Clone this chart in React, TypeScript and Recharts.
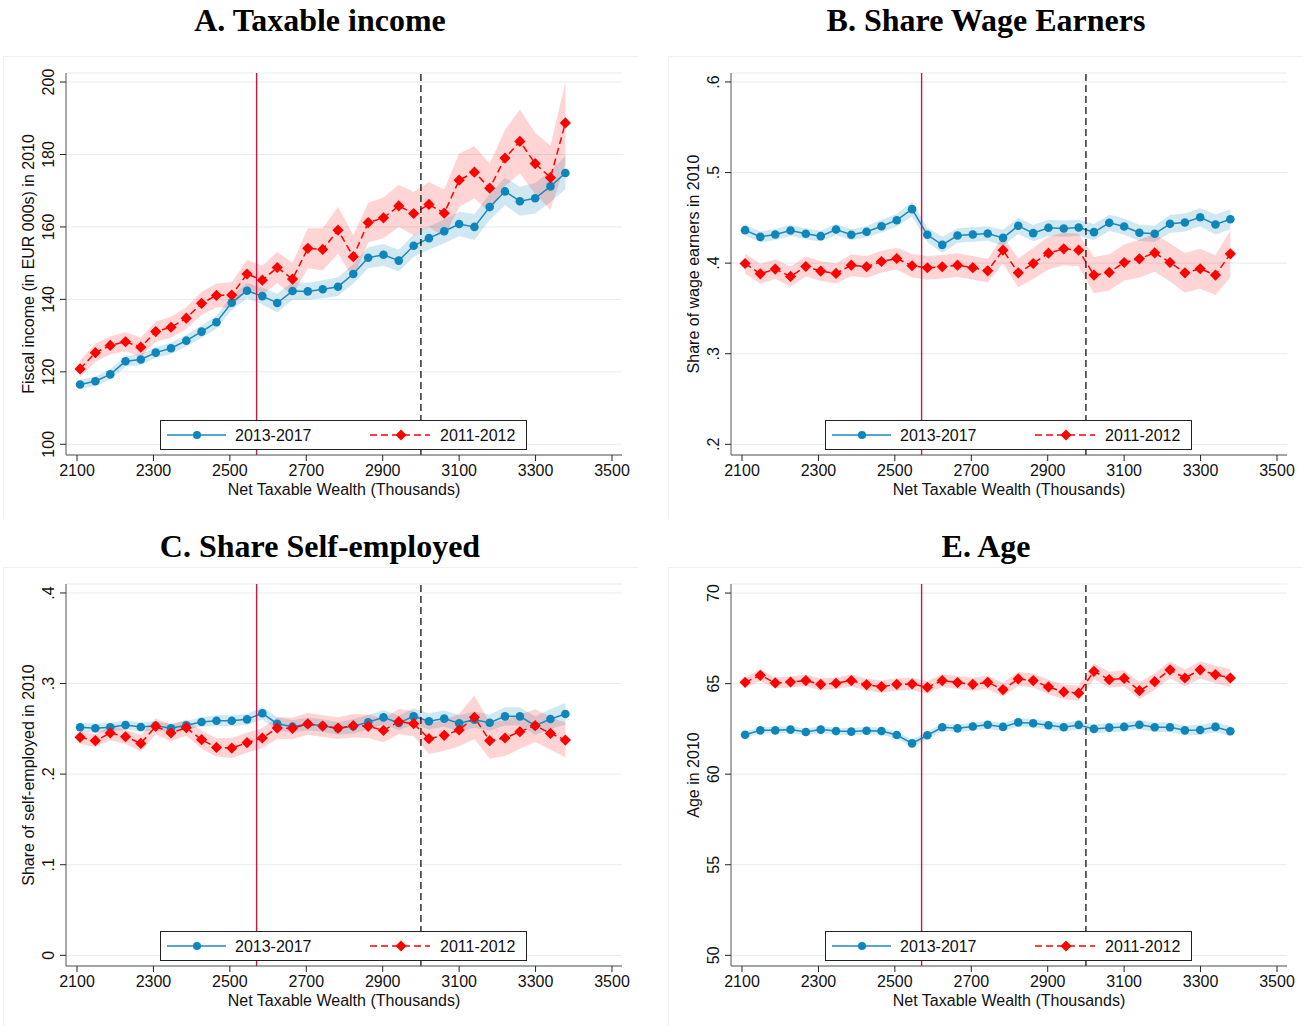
import React from 'react';
import {
  ComposedChart,
  Area,
  Line,
  XAxis,
  YAxis,
  CartesianGrid,
  ReferenceLine,
  Label,
} from 'recharts';

// bin midpoints of net taxable wealth (thousands)
const wealth = [
  2108, 2148, 2187, 2227, 2267, 2306, 2346, 2386, 2426, 2465, 2505, 2545, 2585, 2624, 2664, 2704, 2743,
  2783, 2823, 2862, 2902, 2942, 2981, 3021, 3061, 3100, 3140, 3180, 3220, 3259, 3299, 3339, 3378,
];
const xTicks = [2100, 2300, 2500, 2700, 2900, 3100, 3300, 3500];

// A. taxable income
const incomeLate = [
  116.5, 117.4, 119.3, 122.9, 123.4, 125.3, 126.5, 128.6, 131.1, 133.7, 139.1, 142.4, 140.9, 139.0, 142.3, 142.2, 142.8,
  143.5, 147.0, 151.5, 152.3, 150.7, 154.8, 156.9, 158.8, 160.8, 160.0, 165.5, 169.8, 167.1, 167.9, 171.2, 174.9,
];
const incomeLateCi = [
  1.3, 1.3, 1.4, 1.5, 1.5, 1.5, 1.6, 1.6, 1.7, 1.8, 2.0, 2.1, 2.3, 2.6, 2.4, 2.4, 2.5,
  2.6, 2.7, 2.9, 3.0, 3.0, 3.1, 3.2, 3.3, 3.4, 3.6, 3.6, 3.8, 4.0, 4.2, 4.3, 4.6,
];
const incomeEarly = [
  120.8, 125.3, 127.3, 128.3, 126.8, 131.1, 132.3, 134.8, 138.9, 141.1, 141.2, 147.0, 145.3, 148.8, 145.6, 154.1, 153.8,
  159.1, 151.8, 161.2, 162.5, 165.8, 163.7, 166.2, 163.8, 172.9, 175.1, 170.7, 179.0, 183.6, 177.5, 173.6, 188.7,
];
const incomeEarlyCi = [
  2.3, 2.5, 2.5, 2.6, 2.7, 2.8, 2.9, 3.0, 3.2, 3.3, 3.5, 3.9, 4.0, 4.3, 4.5, 5.5, 5.8,
  6.5, 6.0, 5.5, 5.6, 5.8, 6.0, 6.2, 6.5, 7.4, 7.2, 6.8, 7.8, 8.8, 8.5, 8.8, 11.3,
];

// B. share wage earners
const wageLate = [
  0.4364, 0.429, 0.4316, 0.436, 0.4324, 0.4298, 0.4371, 0.4313, 0.4346, 0.4408, 0.4474, 0.4596, 0.4313, 0.4202, 0.4305, 0.4316, 0.4327,
  0.4279, 0.4412, 0.4331, 0.439, 0.4382, 0.4393, 0.4342, 0.4445, 0.4404, 0.4335, 0.4324, 0.4434, 0.4449, 0.4507, 0.4426, 0.4485,
];
const wageLateCi = [
  0.006, 0.006, 0.006, 0.006, 0.006, 0.006, 0.006, 0.006, 0.006, 0.007, 0.007, 0.008, 0.008, 0.009, 0.008, 0.008, 0.008,
  0.009, 0.009, 0.009, 0.009, 0.009, 0.009, 0.009, 0.009, 0.009, 0.009, 0.009, 0.01, 0.01, 0.01, 0.011, 0.011,
];
const wageEarly = [
  0.3996, 0.3882, 0.3934, 0.3853, 0.3963, 0.3912, 0.3886, 0.3978, 0.396, 0.4018, 0.4051, 0.3971, 0.3949, 0.396, 0.3978, 0.395, 0.3915,
  0.4143, 0.3893, 0.3996, 0.411, 0.4158, 0.4143, 0.3868, 0.3897, 0.4007, 0.4048, 0.4114, 0.4007, 0.3893, 0.3938, 0.3868, 0.4103,
];
const wageEarlyCi = [
  0.011, 0.011, 0.011, 0.011, 0.011, 0.011, 0.011, 0.012, 0.012, 0.012, 0.012, 0.013, 0.013, 0.013, 0.013, 0.013, 0.013,
  0.015, 0.016, 0.017, 0.018, 0.018, 0.018, 0.02, 0.02, 0.02, 0.021, 0.021, 0.021, 0.022, 0.022, 0.022, 0.026,
];

// C. share self-employed
const selfLate = [
  0.2517, 0.2506, 0.2517, 0.2542, 0.252, 0.2535, 0.2506, 0.2539, 0.2576, 0.259, 0.259, 0.2605, 0.2672, 0.2557, 0.2524, 0.2554, 0.2535,
  0.2504, 0.2528, 0.2572, 0.2627, 0.2565, 0.2638, 0.2583, 0.2613, 0.2561, 0.2601, 0.2568, 0.2638, 0.2638, 0.2535, 0.2609, 0.2664,
];
const selfLateCi = [
  0.005, 0.005, 0.005, 0.005, 0.005, 0.005, 0.005, 0.005, 0.005, 0.006, 0.006, 0.006, 0.007, 0.007, 0.007, 0.007, 0.007,
  0.007, 0.008, 0.008, 0.008, 0.008, 0.009, 0.009, 0.009, 0.009, 0.009, 0.009, 0.01, 0.01, 0.01, 0.011, 0.012,
];
const selfEarly = [
  0.2406, 0.2369, 0.2454, 0.2413, 0.2339, 0.2528, 0.2454, 0.2513, 0.238, 0.2295, 0.2288, 0.2347, 0.2399, 0.2509, 0.2506, 0.2554, 0.2531,
  0.2508, 0.2535, 0.2528, 0.2483, 0.2579, 0.2557, 0.2391, 0.2428, 0.2487, 0.2627, 0.2369, 0.2399, 0.2469, 0.2535, 0.245, 0.2376,
];
const selfEarlyCi = [
  0.007, 0.007, 0.008, 0.008, 0.009, 0.009, 0.009, 0.009, 0.01, 0.01, 0.011, 0.011, 0.011, 0.012, 0.012, 0.012, 0.012,
  0.012, 0.013, 0.013, 0.013, 0.014, 0.014, 0.017, 0.017, 0.018, 0.024, 0.02, 0.02, 0.019, 0.018, 0.018, 0.019,
];

// E. age
const ageLate = [
  62.18, 62.42, 62.42, 62.46, 62.33, 62.46, 62.38, 62.35, 62.4, 62.38, 62.16, 61.7, 62.15, 62.59, 62.53, 62.63, 62.73,
  62.61, 62.86, 62.81, 62.7, 62.59, 62.72, 62.5, 62.57, 62.61, 62.73, 62.59, 62.59, 62.42, 62.44, 62.61, 62.37,
];
const ageLateCi = [
  0.18, 0.18, 0.18, 0.19, 0.19, 0.19, 0.19, 0.2, 0.2, 0.2, 0.2, 0.21, 0.21, 0.21, 0.22, 0.22, 0.22,
  0.22, 0.23, 0.23, 0.23, 0.24, 0.24, 0.24, 0.25, 0.25, 0.25, 0.26, 0.26, 0.27, 0.27, 0.28, 0.28,
];
const ageEarly = [
  65.07, 65.46, 65.04, 65.09, 65.17, 64.96, 65.02, 65.17, 64.94, 64.83, 64.96, 64.98, 64.8, 65.17, 65.06, 64.96, 65.07,
  64.67, 65.26, 65.17, 64.82, 64.54, 64.47, 65.68, 65.22, 65.29, 64.61, 65.11, 65.76, 65.31, 65.76, 65.5, 65.31,
];
const ageEarlyCi = [
  0.3, 0.32, 0.3, 0.3, 0.32, 0.32, 0.32, 0.33, 0.33, 0.34, 0.34, 0.34, 0.35, 0.35, 0.36, 0.36, 0.37,
  0.38, 0.38, 0.39, 0.4, 0.4, 0.42, 0.44, 0.44, 0.45, 0.46, 0.46, 0.47, 0.47, 0.48, 0.48, 0.5,
];

const BLUE = '#1a8ac0';
const BLUE_DOT = '#0f86ba';
const RED = '#ff0000';
const SANS = '"Liberation Sans", Arial, sans-serif';
const SERIF = '"Liberation Serif", "Times New Roman", serif';

const PW = 635;
const PH = 462;

const build = (late: number[], lateCi: number[], early: number[], earlyCi: number[]) =>
  wealth.map((x, i) => ({
    x,
    late: late[i],
    lateBand: [late[i] - lateCi[i], late[i] + lateCi[i]],
    early: early[i],
    earlyBand: [early[i] - earlyCi[i], early[i] + earlyCi[i]],
  }));

const dropZero = (v: number) => {
  const s = String(v);
  return s.startsWith('0.') ? s.slice(1) : s;
};

const Circle = (p: any) => {
  if (p.cx == null || p.cy == null) return null;
  return <circle key={p.key} cx={p.cx} cy={p.cy} r={4.3} fill={BLUE_DOT} />;
};

const Diamond = (p: any) => {
  if (p.cx == null || p.cy == null) return null;
  const { cx, cy } = p;
  const s = 5.6;
  return (
    <path
      key={p.key}
      d={`M${cx},${cy - s}L${cx + s},${cy}L${cx},${cy + s}L${cx - s},${cy}Z`}
      fill={RED}
    />
  );
};

const YTick = (p: any) => {
  const { x, y, payload, fmt } = p;
  return (
    <text
      x={x}
      y={y}
      transform={`rotate(-90 ${x} ${y})`}
      textAnchor="middle"
      fontSize={16}
      fontFamily={SANS}
      fill="#111"
    >
      {fmt(payload.value)}
    </text>
  );
};

const LegendBox = ({ left, top }: { left: number; top: number }) => (
  <div
    style={{
      position: 'absolute',
      left,
      top,
      width: 367,
      height: 30,
      boxSizing: 'border-box',
      border: '1px solid #222',
      background: '#fff',
    }}
  >
    <svg width={365} height={28} style={{ position: 'absolute', left: 0, top: 0 }}>
      <line x1={6} x2={65} y1={14} y2={14} stroke={BLUE} strokeWidth={1.5} />
      <circle cx={36} cy={14} r={4} fill={BLUE_DOT} />
      <text x={74} y={20} fontSize={16} fontFamily={SANS} fill="#111">
        2013-2017
      </text>
      <line x1={209} x2={269} y1={14} y2={14} stroke={RED} strokeWidth={1.5} strokeDasharray="7 4" />
      <path d="M240,8.5L245.5,14L240,19.5L234.5,14Z" fill={RED} />
      <text x={279} y={20} fontSize={16} fontFamily={SANS} fill="#111">
        2011-2012
      </text>
    </svg>
  </div>
);

interface PanelProps {
  left: number;
  top: number;
  data: any[];
  domain: [number, number];
  ticks: number[];
  fmt: (v: number) => string;
  yTitle: string;
}

const Panel: React.FC<PanelProps> = ({ left, top, data, domain, ticks, fmt, yTitle }) => (
  <div style={{ position: 'absolute', left, top, width: PW, height: PH }}>
    <div
      style={{
        position: 'absolute',
        left: 0,
        top: 0,
        width: PW,
        height: PH,
        borderTop: '1px solid #eef1f3',
        borderLeft: '1px solid #eef1f3',
        boxSizing: 'border-box',
      }}
    />
    <div style={{ position: 'absolute', left: 0, top: 0 }}>
      <ComposedChart width={PW} height={PH} data={data} margin={{ top: 17, right: 16, bottom: 0, left: 0 }}>
        <CartesianGrid vertical={false} stroke="#e4edf0" strokeWidth={1} />
        <XAxis
          type="number"
          dataKey="x"
          domain={[2071.2, 3526.2]}
          ticks={xTicks}
          allowDataOverflow
          height={63}
          stroke="#555"
          tickLine={{ stroke: '#222' }}
          tickSize={6}
          tickMargin={4}
          tick={{ fontSize: 16, fontFamily: SANS, fill: '#111' }}
        >
          <Label
            content={(p: any) => (
              <text
                x={p.viewBox.x + p.viewBox.width / 2}
                y={p.viewBox.y + 40}
                textAnchor="middle"
                fontSize={16}
                fontFamily={SANS}
                fill="#111"
              >
                Net Taxable Wealth (Thousands)
              </text>
            )}
          />
        </XAxis>
        <YAxis
          type="number"
          domain={domain}
          ticks={ticks}
          allowDataOverflow
          width={63}
          stroke="#555"
          tickLine={{ stroke: '#222' }}
          tickSize={6}
          tickMargin={6}
          tick={<YTick fmt={fmt} />}
        >
          <Label
            content={(p: any) => {
              const cx = 31;
              const cy = p.viewBox.y + p.viewBox.height / 2;
              return (
                <text
                  x={cx}
                  y={cy}
                  transform={`rotate(-90 ${cx} ${cy})`}
                  textAnchor="middle"
                  fontSize={16}
                  fontFamily={SANS}
                  fill="#111"
                >
                  {yTitle}
                </text>
              );
            }}
          />
        </YAxis>
        <Area
          dataKey="lateBand"
          stroke="none"
          fill={BLUE}
          fillOpacity={0.2}
          isAnimationActive={false}
          activeDot={false}
        />
        <Line
          dataKey="late"
          stroke={BLUE}
          strokeWidth={1.5}
          dot={Circle}
          activeDot={false}
          isAnimationActive={false}
        />
        <Area
          dataKey="earlyBand"
          stroke="none"
          fill={RED}
          fillOpacity={0.17}
          isAnimationActive={false}
          activeDot={false}
        />
        <Line
          dataKey="early"
          stroke={RED}
          strokeWidth={1.5}
          strokeDasharray="7 4"
          dot={Diamond}
          activeDot={false}
          isAnimationActive={false}
        />
        <ReferenceLine x={2570} stroke="#c8173f" strokeWidth={1.4} />
        <ReferenceLine x={3000} stroke="#111" strokeWidth={1.3} strokeDasharray="7 4" />
      </ComposedChart>
    </div>
    <LegendBox left={157} top={363.5} />
  </div>
);

const Title = ({ cx, y, text }: { cx: number; y: number; text: string }) => (
  <div
    style={{
      position: 'absolute',
      left: cx - 300,
      width: 600,
      top: y,
      textAlign: 'center',
      fontFamily: SERIF,
      fontWeight: 'bold',
      fontSize: 32,
      lineHeight: '36px',
      color: '#000',
    }}
  >
    {text}
  </div>
);

export default function App() {
  return (
    <div
      style={{
        position: 'absolute',
        left: 0,
        top: 0,
        width: 1311,
        height: 1026,
        background: '#fff',
        overflow: 'hidden',
      }}
    >
      <Title cx={320} y={2} text="A. Taxable income" />
      <Title cx={986} y={2} text="B. Share Wage Earners" />
      <Title cx={320} y={528} text="C. Share Self-employed" />
      <Title cx={986} y={528} text="E. Age" />
      <Panel
        left={3}
        top={56}
        data={build(incomeLate, incomeLateCi, incomeEarly, incomeEarlyCi)}
        domain={[97.04, 202.49]}
        ticks={[100, 120, 140, 160, 180, 200]}
        fmt={(v) => String(v)}
        yTitle="Fiscal income (in EUR 000s) in 2010"
      />
      <Panel
        left={668}
        top={56}
        data={build(wageLate, wageLateCi, wageEarly, wageEarlyCi)}
        domain={[0.1882, 0.6099]}
        ticks={[0.2, 0.3, 0.4, 0.5, 0.6]}
        fmt={dropZero}
        yTitle="Share of wage earners in 2010"
      />
      <Panel
        left={3}
        top={567}
        data={build(selfLate, selfLateCi, selfEarly, selfEarlyCi)}
        domain={[-0.0118, 0.4099]}
        ticks={[0, 0.1, 0.2, 0.3, 0.4]}
        fmt={dropZero}
        yTitle="Share of self-employed in 2010"
      />
      <Panel
        left={668}
        top={567}
        data={build(ageLate, ageLateCi, ageEarly, ageEarlyCi)}
        domain={[49.41, 70.5]}
        ticks={[50, 55, 60, 65, 70]}
        fmt={(v) => String(v)}
        yTitle="Age in 2010"
      />
    </div>
  );
}
